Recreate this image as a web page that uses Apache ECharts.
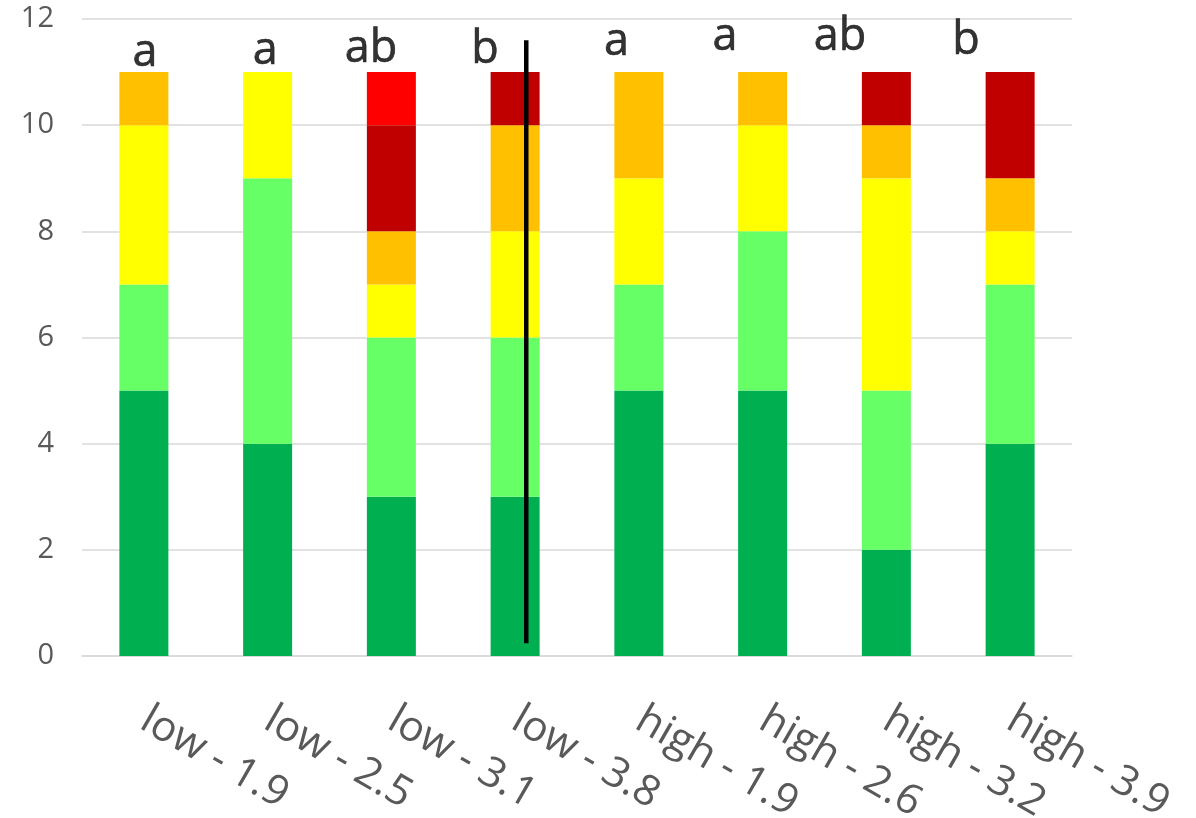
<!DOCTYPE html>
<html>
<head>
<meta charset="utf-8">
<script src="https://cdn.jsdelivr.net/npm/echarts@6/dist/echarts.min.js"></script>
<style>
html,body{margin:0;padding:0;background:#fff;}
#chart{width:1196px;height:818px;}
</style>
</head>
<body>
<div id="chart"></div>
<script>
const categories = ['low - 1.9','low - 2.5','low - 3.1','low - 3.8','high - 1.9','high - 2.6','high - 3.2','high - 3.9'];
const darkGreen  = [5,4,3,3,5,5,2,4];
const lightGreen = [2,5,3,3,2,3,3,3];
const yellow     = [3,2,1,2,2,2,4,1];
const orange     = [1,0,1,2,2,1,1,1];
const darkRed    = [0,0,2,1,0,0,1,2];
const red        = [0,0,1,0,0,0,0,0];
const yTicks = [0,2,4,6,8,10,12];

// significance letters (annotation text and where it sits)
const letters = ['a','a','ab','b','a','a','ab','b'];
const letterX = [0.01,0.98,1.835,2.757,3.819,4.696,5.625,6.643];
const letterY = [11.35,11.39,11.43,11.41,11.57,11.65,11.66,11.58];

// vertical black separator line
const sepX = [3.09,3.09];
const sepY = [0.24,11.6];

const FONT = '"Open Sans", "Noto Sans", sans-serif';
const colors = ['#00B050','#66FF66','#FFFF00','#FFC000','#C00000','#FF0000'];
const stacks = [darkGreen, lightGreen, yellow, orange, darkRed, red];

const chart = echarts.init(document.getElementById('chart'), null, {renderer:'canvas'});

const series = stacks.map((d, i) => ({
  type: 'bar',
  stack: 'total',
  data: d,
  barWidth: 49,
  itemStyle: {color: colors[i]},
  emphasis: {disabled: true},
  xAxisIndex: 0,
  yAxisIndex: 0
}));

series.push({
  type: 'line',
  xAxisIndex: 1,
  yAxisIndex: 0,
  data: sepX.map((x, i) => [x, sepY[i]]),
  symbol: 'none',
  lineStyle: {color: '#000', width: 4.5},
  silent: true,
  z: 5
});

series.push({
  type: 'scatter',
  xAxisIndex: 1,
  yAxisIndex: 0,
  symbolSize: 0,
  data: letters.map((t, i) => ({value: [letterX[i], letterY[i]], name: t})),
  label: {
    show: true,
    position: 'inside',
    formatter: p => p.name,
    color: '#000',
    fontSize: 45,
    fontFamily: FONT,
    textBorderColor: '#000',
    textBorderWidth: 0.6
  },
  silent: true,
  z: 6
});

chart.setOption({
  animation: false,
  backgroundColor: '#fff',
  grid: {left: 82, right: 124, top: 19, bottom: 162, containLabel: false, outerBoundsMode: 'none'},
  xAxis: [{
    type: 'category',
    data: categories,
    axisLine: {show: true, lineStyle: {color: '#D9D9D9', width: 1.5}},
    axisTick: {show: false},
    axisLabel: {
      rotate: -30,
      margin: 61,
      fontSize: 42,
      color: '#595959',
      fontFamily: FONT,
      interval: 0
    },
    splitLine: {show: false}
  }, {
    type: 'value',
    min: -0.5,
    max: 7.5,
    show: false
  }],
  yAxis: {
    type: 'value',
    min: yTicks[0],
    max: yTicks[yTicks.length - 1],
    interval: 2,
    axisLine: {show: false},
    axisTick: {show: false},
    axisLabel: {
      margin: 28,
      fontSize: 29,
      color: '#595959',
      fontFamily: FONT
    },
    splitLine: {lineStyle: {color: '#D9D9D9', width: 1.5}}
  },
  series: series
});
</script>
</body>
</html>
